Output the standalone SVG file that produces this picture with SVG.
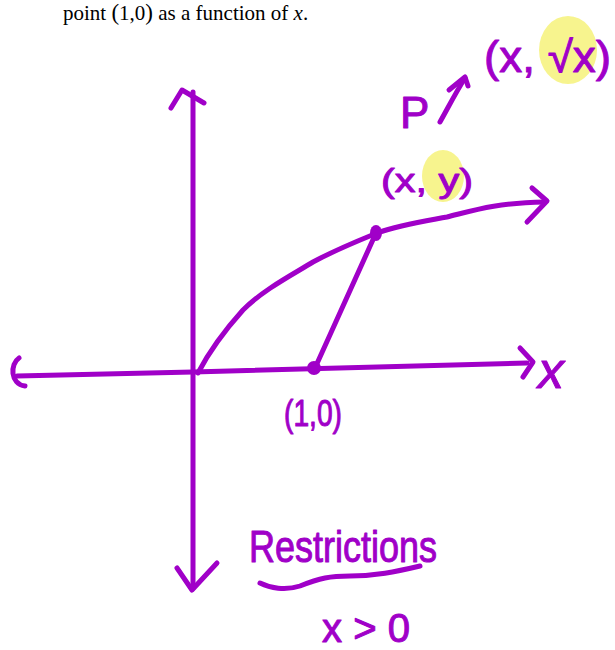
<svg xmlns="http://www.w3.org/2000/svg" width="615" height="650" viewBox="0 0 615 650">
<style>
.ink{fill:none;stroke:#A000C8;stroke-width:5;stroke-linecap:round;stroke-linejoin:round}
.hw{fill:#A000C8;stroke:#A000C8;stroke-width:1;stroke-linejoin:round;font-family:"Liberation Sans",Arial,sans-serif}
.hl{fill:#F6F27A;opacity:0.85}
.cap{font-family:"Liberation Serif","Times New Roman",serif;font-size:21px;fill:#000}
</style>
<rect width="615" height="650" fill="#fff"/>
<text class="cap" x="63" y="20">point <tspan font-size="23">(</tspan>1,0<tspan font-size="23">)</tspan>  as a function of <tspan font-style="italic">x</tspan>.</text>
<g id="highlights">
<ellipse class="hl" cx="568" cy="50" rx="29" ry="34"/>
<ellipse class="hl" cx="443" cy="176" rx="21" ry="26"/>
</g>
<g id="axes">
<path class="ink" d="M193 92 L193 588"/>
<path class="ink" d="M171 108 L182 90 L204 103"/>
<path class="ink" d="M177 568 L192 590 L217 563"/>
<path class="ink" d="M17 376 L193 372 L527 363"/>
<path class="ink" d="M19 358 C10 364 10 384 25 386"/>
<path class="ink" d="M520 348 L533 362 L523 377"/>
</g>
<g id="curve">
<path class="ink" d="M198 373 C210 350 225 330 243 310 C263 290 290 276 313 262 C335 250 355 242 377 233 C400 225 420 222 447 217 C475 210 495 203 545 202"/>
<path class="ink" d="M532 188 L547 201 L527 222"/>
</g>
<g id="connectors">
<path class="ink" d="M376 233 L315 368"/>
<path class="ink" d="M440 122 C448 108 456 92 465 78"/>
<path class="ink" d="M449 90 L465 77 L468 86"/>
</g>
<g id="point-xy"><ellipse cx="376" cy="233" rx="6" ry="8" fill="#A000C8"/></g>
<g id="point-10"><circle cx="314" cy="368" r="7" fill="#A000C8"/></g>
<g id="labels">
<text class="hw" x="484" y="72" font-size="44" textLength="127" lengthAdjust="spacingAndGlyphs">(x, √x)</text>
<text class="hw" x="400" y="128" font-size="44">P</text>
<text class="hw" x="381" y="192" font-size="34" textLength="92" lengthAdjust="spacingAndGlyphs">(x, y)</text>
<text class="hw" x="284" y="426" font-size="36" textLength="58" lengthAdjust="spacingAndGlyphs">(1,0)</text>
<text class="hw" x="538" y="388" font-size="52" font-style="italic">x</text>
<text class="hw" x="249" y="562" font-size="44" textLength="188" lengthAdjust="spacingAndGlyphs">Restrictions</text>
<path class="ink" d="M260 583 C270 588 285 591 300 586 C320 578 330 576 350 576 C375 576 395 572 420 566"/>
<text class="hw" x="322" y="642" font-size="40" textLength="88" lengthAdjust="spacingAndGlyphs">x &gt; 0</text>
</g>
</svg>
